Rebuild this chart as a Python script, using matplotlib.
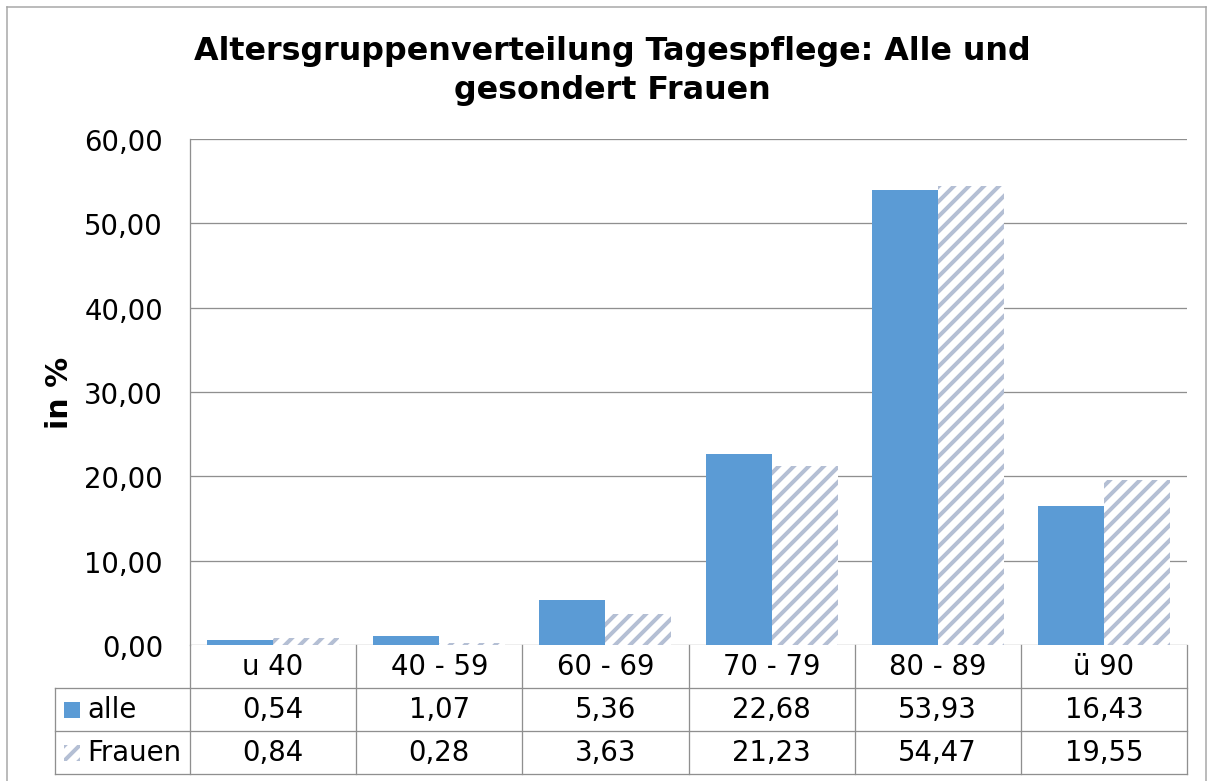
import numpy as np
import matplotlib
matplotlib.use('Agg')
import matplotlib.pyplot as plt
from matplotlib.patches import Rectangle
from matplotlib.lines import Line2D
from matplotlib.transforms import blended_transform_factory

# data
categories = ['u 40', '40 - 59', '60 - 69', '70 - 79', '80 - 89', 'ü 90']
alle = [0.54, 1.07, 5.36, 22.68, 53.93, 16.43]
frauen = [0.84, 0.28, 3.63, 21.23, 54.47, 19.55]
series_names = ['alle', 'Frauen']
yticks = [0, 10, 20, 30, 40, 50, 60]

BLUE = '#5B9BD5'
HATCH = '#B4BFD4'
GRID = '#8F8F8F'
FRAME = '#A6A6A6'

# dpi 90 so that the '//' hatch comes out about 15 px apart like the original;
# S turns pixel sizes into points
DPI = 90
S = 72 / DPI


def de(v):
    # german decimal comma
    return f"{v:.2f}".replace('.', ',')


plt.rcParams['font.family'] = 'DejaVu Sans'
plt.rcParams['hatch.linewidth'] = 4 * S

W, H = 1213, 782
fig = plt.figure(figsize=(W / DPI, H / DPI), dpi=DPI)
ax = fig.add_axes([190 / W, 1 - 646 / H, 997 / W, 506 / H])

x = np.arange(len(categories))
bw = 0.397
ax.bar(x - bw / 2, alle, bw, color=BLUE, linewidth=0, zorder=2)
ax.bar(x + bw / 2, frauen, bw, facecolor='white', edgecolor=HATCH,
       hatch='//', linewidth=0, zorder=2)

fs = 27.5 * S
lw = 1.3 * S

ax.set_xlim(-0.5, len(categories) - 0.5)
ax.set_ylim(0, 60)
ax.set_yticks(yticks)
ax.set_yticklabels([de(v) for v in yticks], fontsize=fs)
ax.set_xticks([])
ax.tick_params(axis='y', length=0, pad=27 * S)
ax.yaxis.grid(True, color=GRID, linewidth=lw)
ax.set_axisbelow(True)
for s in ['top', 'right', 'bottom']:
    ax.spines[s].set_visible(False)
ax.spines['left'].set_color(GRID)
ax.spines['left'].set_linewidth(lw)

# data table under the plot
trans = blended_transform_factory(ax.transData, ax.transAxes)
h = 43 / 506
px = 997 / len(categories)
left_x = -0.5 - 135 / px
right_x = len(categories) - 0.5
n_rows = 3

for k in range(1, n_rows + 1):
    ax.add_line(Line2D([left_x, right_x], [-k * h, -k * h], transform=trans,
                       color=GRID, lw=lw, clip_on=False))
ax.add_line(Line2D([left_x, left_x], [-h, -n_rows * h], transform=trans,
                   color=GRID, lw=lw, clip_on=False))
for xv in np.arange(-0.5, len(categories)):
    ax.add_line(Line2D([xv, xv], [0, -n_rows * h], transform=trans,
                       color=GRID, lw=lw, clip_on=False))

for i, c in enumerate(categories):
    ax.text(i, -0.5 * h, c, transform=trans, ha='center', va='center', fontsize=fs)
    ax.text(i, -1.5 * h, de(alle[i]), transform=trans, ha='center', va='center', fontsize=fs)
    ax.text(i, -2.5 * h, de(frauen[i]), transform=trans, ha='center', va='center', fontsize=fs)

# legend keys inside the table
key_x = -0.5 - (190 - 64) / px
key_w = 16 / px
key_h = 16 / 506
ax.add_patch(Rectangle((key_x, -1.5 * h - key_h / 2), key_w, key_h, transform=trans,
                       facecolor=BLUE, linewidth=0, clip_on=False))
ax.add_patch(Rectangle((key_x, -2.5 * h - key_h / 2), key_w, key_h, transform=trans,
                       facecolor='white', edgecolor=HATCH, hatch='//', linewidth=0, clip_on=False))
lab_x = -0.5 - (190 - 87) / px
ax.text(lab_x, -1.5 * h, series_names[0], transform=trans, ha='left', va='center', fontsize=fs)
ax.text(lab_x, -2.5 * h, series_names[1], transform=trans, ha='left', va='center', fontsize=fs)

fig.text(59 / W, 1 - 393 / H, 'in %', rotation=90, ha='center', va='center',
         fontsize=30 * S, fontweight='bold')
fig.text(612 / W, 1 - 71 / H, 'Altersgruppenverteilung Tagespflege: Alle und\ngesondert Frauen',
         ha='center', va='center', fontsize=31.7 * S, fontweight='bold', linespacing=1.3)

# outer chart frame
flw = 1.5 * S
fig.add_artist(Line2D([7 / W, 7 / W], [0, 1 - 8 / H], color=FRAME, lw=flw))
fig.add_artist(Line2D([7 / W, 1206 / W], [1 - 8 / H, 1 - 8 / H], color=FRAME, lw=flw))
fig.add_artist(Line2D([1206 / W, 1206 / W], [0, 1 - 8 / H], color=FRAME, lw=flw))

fig.savefig('out.png', dpi=DPI, facecolor='white')
